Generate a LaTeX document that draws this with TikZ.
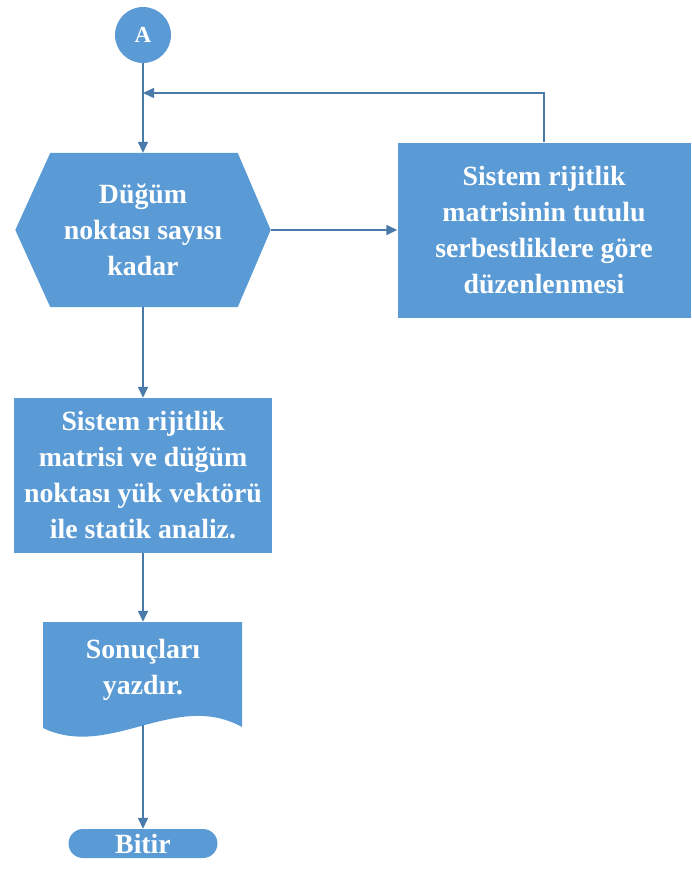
\documentclass[tikz,border=0pt]{standalone}
\usepackage{fontspec}
\setmainfont{Liberation Serif}
\usetikzlibrary{arrows.meta,calc,backgrounds}
\definecolor{boxfill}{RGB}{91,155,213}
\definecolor{linecol}{RGB}{74,122,170}
\tikzset{
  txt/.style={text=white,font=\fontsize{27.8}{36}\selectfont\bfseries,align=center,inner sep=0pt},
  conn/.style={draw=linecol,line width=1.5pt,-{Triangle[length=11pt,width=10pt]}},
  plain/.style={draw=linecol,line width=1.5pt,line join=miter},
}
\begin{document}
\begin{tikzpicture}[x=1pt,y=-1pt]
\useasboundingbox (0,0) rectangle (692,873);
% nodes
\node[circle,fill=boxfill,minimum size=56pt,inner sep=0pt,text=white,font=\fontsize{23}{26}\selectfont\bfseries] (A) at (143,35) {A};
\node[txt,minimum width=255pt,minimum height=154pt] (hex) at (143,230) {Düğüm\\noktası sayısı\\kadar};
\node[txt,fill=boxfill,minimum width=293pt,minimum height=175pt] (b1) at (544,230) {Sistem rijitlik\\matrisinin tutulu\\serbestliklere göre\\düzenlenmesi};
\node[txt,fill=boxfill,minimum width=258pt,minimum height=155pt] (b2) at (143,475.5) {Sistem rijitlik\\matrisi ve düğüm\\noktası yük vektörü\\ile statik analiz.};
\node[txt,minimum width=199pt,minimum height=96pt] (doc) at (143,670) {Sonuçları\\yazdır.};
\node[txt,fill=boxfill,rounded corners=14.5pt,minimum width=149pt,minimum height=29pt] (end) at (143,843.5) {Bitir};
\coordinate (docb) at (143,725);
\coordinate (lp) at (544,93);
% shapes behind text
\begin{scope}[on background layer]
\fill[boxfill] (hex.west) -- ($(hex.north west)+(35,0)$) -- ($(hex.north east)+(-33,0)$) -- (hex.east)
  -- ($(hex.south east)+(-33,0)$) -- ($(hex.south west)+(35,0)$) -- cycle;
\fill[boxfill] (43,622) -- (242,622) -- (242,727) .. controls (175,690) and (110,760) .. (43,728) -- cycle;
\end{scope}
% connectors
\draw[conn] (A) -- (hex.north);
\draw[conn] (hex.east) -- (b1.west);
\draw[conn] (b1.north) -- (lp) -- (lp -| A);
\draw[conn] (hex.south) -- (b2.north);
\draw[conn] (b2.south) -- (doc.north);
\draw[conn] (docb) -- (end.north);
\end{tikzpicture}
\end{document}
